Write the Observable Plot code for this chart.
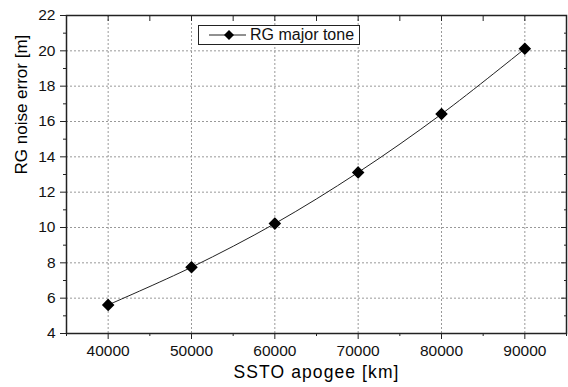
<!DOCTYPE html>
<html>
<head>
<meta charset="utf-8">
<script src="https://cdn.jsdelivr.net/npm/d3@7"></script>
<script src="https://cdn.jsdelivr.net/npm/@observablehq/plot@0.6"></script>
<style>
  html, body { margin: 0; padding: 0; background: #fff; }
  #wrap { position: relative; width: 568px; height: 387px; font-family: "Liberation Sans", Arial, sans-serif; }
  #legend { position: absolute; left: 198px; top: 25px; width: 162px; height: 20px; border: 1px solid #222; background: #fff; box-sizing: border-box; }
  #legend svg { position: absolute; left: 0; top: 0; }
  #legend span { position: absolute; left: 51px; top: 0px; font-size: 16px; line-height: 18px; color: #111; }
  .xlabel text { letter-spacing: 1.1px; }
</style>
</head>
<body>
<div id="wrap"></div>
<script>
const apogee = [40000, 50000, 60000, 70000, 80000, 90000];
const noiseError = [5.62, 7.75, 10.22, 13.12, 16.42, 20.12];
const seriesName = "RG major tone";
const xMajor = [40000, 50000, 60000, 70000, 80000, 90000];
const xMinor = [35000, 45000, 55000, 65000, 75000, 85000, 95000];
const yMajor = [4, 6, 8, 10, 12, 14, 16, 18, 20, 22];
const yMinor = [5, 7, 9, 11, 13, 15, 17, 19, 21];

const data = apogee.map((x, i) => ({x, y: noiseError[i]}));
const font = "Liberation Sans, Arial, sans-serif";
const noText = () => "";

const chart = Plot.plot({
  width: 568,
  height: 387,
  marginLeft: 66,
  marginRight: 2,
  marginTop: 15,
  marginBottom: 54,
  style: {fontFamily: font, fontSize: "15.5px", color: "#111", background: "#fff"},
  x: {domain: [35000, 95000]},
  y: {domain: [4, 22]},
  marks: [
    Plot.gridX(xMajor, {stroke: "#999", strokeOpacity: 1, strokeDasharray: "2,2", strokeWidth: 1}),
    Plot.gridY(yMajor, {stroke: "#999", strokeOpacity: 1, strokeDasharray: "2,2", strokeWidth: 1}),
    Plot.line(data, {x: "x", y: "y", curve: "catmull-rom", stroke: "#222", strokeWidth: 1}),
    Plot.dot(data, {x: "x", y: "y", symbol: "diamond2", r: 4.7, fill: "#000", stroke: "#000"}),
    Plot.axisX(xMajor, {anchor: "bottom", tickSize: 6, tickPadding: 5, tickFormat: d => String(d), fontSize: 15.5, label: null, stroke: "#222"}),
    Plot.axisX(xMinor, {anchor: "bottom", tickSize: 3, tickFormat: noText, label: null, stroke: "#222"}),
    Plot.axisX(xMajor.concat(xMinor), {anchor: "top", tickSize: -5, tickFormat: noText, label: null, stroke: "#222"}),
    Plot.axisY(yMajor, {anchor: "left", tickSize: 6, tickPadding: 5, fontSize: 15.5, label: null, stroke: "#222"}),
    Plot.axisY(yMinor, {anchor: "left", tickSize: 3, tickFormat: noText, label: null, stroke: "#222"}),
    Plot.axisY(yMajor, {anchor: "right", tickSize: -6, tickFormat: noText, label: null, stroke: "#222"}),
    Plot.axisY(yMinor, {anchor: "right", tickSize: -3, tickFormat: noText, label: null, stroke: "#222"}),
    Plot.frame({stroke: "#222", strokeWidth: 1.5}),
    Plot.text(["SSTO apogee [km]"], {frameAnchor: "bottom", dy: 44, text: d => d, fontSize: 17.5, fill: "#000", className: "xlabel"}),
    Plot.text(["RG noise error [m]"], {frameAnchor: "left", dx: -45, rotate: -90, text: d => d, fontSize: 17, fill: "#000"})
  ]
});

const wrap = document.getElementById("wrap");
wrap.appendChild(chart);

const legend = document.createElement("div");
legend.id = "legend";
legend.innerHTML = `<svg width="52" height="18"><line x1="10" y1="9" x2="47" y2="9" stroke="#222" stroke-width="1"/><path d="M30,4 L35,9 L30,14 L25,9 Z" fill="#000"/></svg><span>${seriesName}</span>`;
wrap.appendChild(legend);
</script>
</body>
</html>
